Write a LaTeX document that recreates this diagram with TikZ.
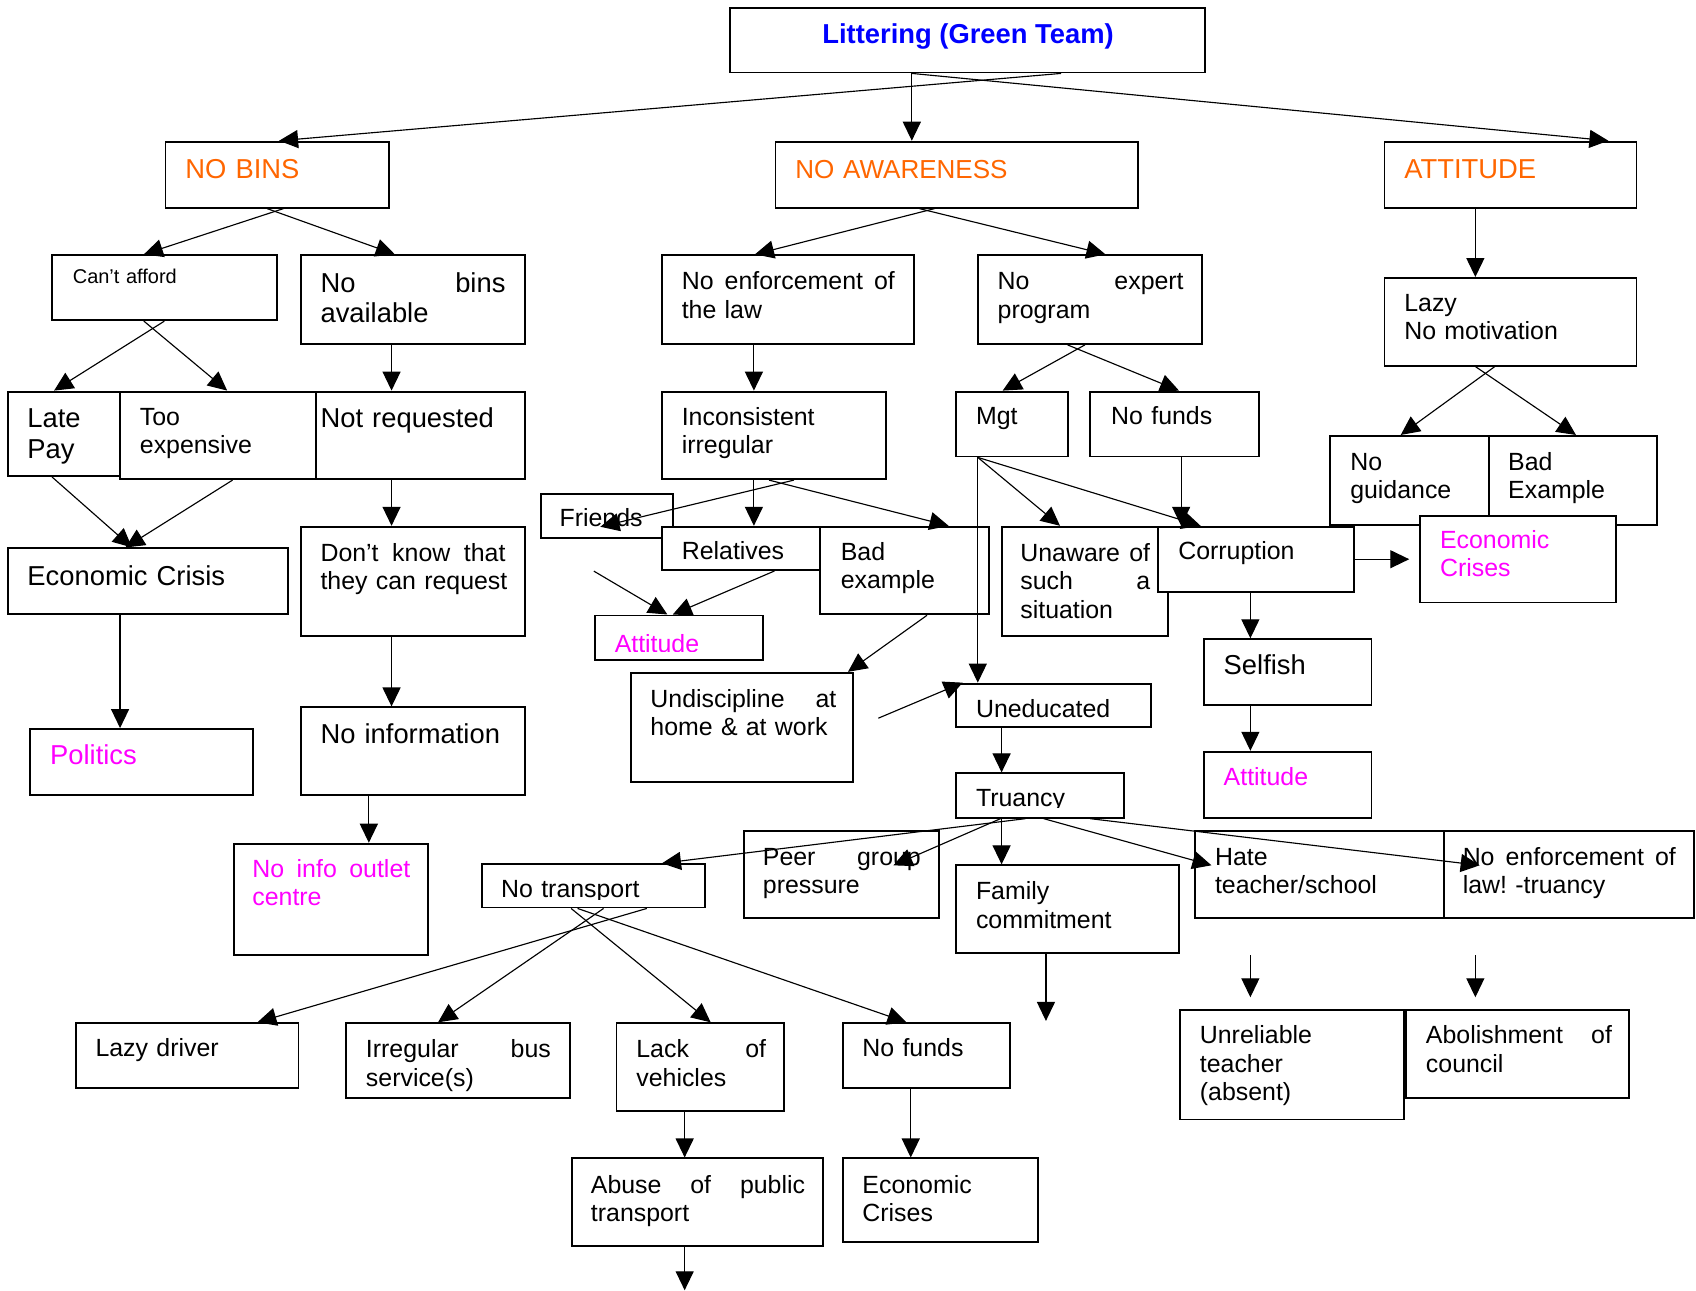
\documentclass[tikz,border=0pt]{standalone}
\usepackage{fontspec}
\setmainfont{Liberation Sans}
\usepackage{xcolor}
\usetikzlibrary{arrows.meta,fit,calc}
\definecolor{ttlblue}{RGB}{0,0,255}
\definecolor{hdorange}{RGB}{255,102,0}
\definecolor{hlmag}{RGB}{255,0,255}
\newcommand{\fsn}{\fontsize{13.1}{14.9}\selectfont}
\newcommand{\fsl}{\fontsize{14.4}{16.2}\selectfont}
\newcommand{\fss}{\fontsize{10.5}{12}\selectfont}
\frenchspacing
\tikzstyle{bx}=[draw, line width=1pt, fill=white, inner sep=0pt]
\tikzstyle{tx}=[anchor=base west, inner sep=0pt, align=left, text width=5cm, font=\fsn]
\tikzstyle{ar}=[-{Triangle[length=10pt,width=9.5pt]}, line width=0.6pt]

\begin{document}
\begin{tikzpicture}[x=0.02cm, y=-0.02cm]
\path[use as bounding box, fill=white] (0,0) rectangle (1568,1193);

% heads
\node[bx, fit={(675,7) (1114,67)}] (top) {};
\node[anchor=base, inner sep=0pt, font=\fsl\bfseries, text=ttlblue] (topT) at (895,40) {Littering (Green Team)};
\node[bx, fit={(153,131) (360,192)}] (nobins) {};
\node[tx, font=\fsl, text=hdorange] (nobinsT) at (171,165) {NO BINS};
\node[bx, fit={(717,131) (1052,192)}] (noaware) {};
\node[tx, font=\fontsize{13.7}{16}\selectfont, text=hdorange] (noawareT) at (735,165) {NO AWARENESS};
\node[bx, fit={(1280,131) (1513,192)}] (attit) {};
\node[tx, font=\fsl, text=hdorange] (attitT) at (1298,165) {ATTITUDE};

% second row
\node[bx, fit={(48,236) (256,296)}] (cant) {};
\node[tx, font=\fss] (cantT) at (67,262) {Can’t afford};
\node[bx, fit={(278,236) (485,318)}] (nobav) {};
\node[tx, font=\fsl, text width=3.42cm] (nobavT) at (296,270) {No\hfill bins\\available};
\node[bx, fit={(612,236) (845,318)}] (noenf) {};
\node[tx, text width=3.94cm] (noenfT) at (630,268) {No\hfill enforcement\hfill of\\the law};
\node[bx, fit={(904,236) (1111,318)}] (noexp) {};
\node[tx, text width=3.44cm] (noexpT) at (922,268) {No\hfill expert\\program};
\node[bx, fit={(1280,257) (1513,338)}] (lazy) {};
\node[tx] (lazyT) at (1298,288) {Lazy\\No motivation};

% third row
\node[bx, fit={(7,362) (111,440)}] (late) {};
\node[tx, font=\fsl] (lateT) at (25,395) {Late\\Pay};
\node[bx, fit={(111,362) (292,443)}] (tooexp) {};
\node[tx] (tooexpT) at (129,393) {Too\\expensive};
\node[bx, fit={(292,362) (485,443)}] (notreq) {};
\node[tx, font=\fsl] (notreqT) at (296,395) {Not requested};
\node[bx, fit={(612,362) (819,443)}] (incons) {};
\node[tx] (inconsT) at (630,393) {Inconsistent\\irregular};
\node[bx, fit={(884,362) (987,422)}] (mgt) {};
\node[tx] (mgtT) at (902,392) {Mgt};
\node[bx, fit={(1008,362) (1164,422)}] (nofund1) {};
\node[tx] (nofund1T) at (1027,392) {No funds};
\node[bx, fit={(1230,403) (1377,485)}] (noguid) {};
\node[tx] (noguidT) at (1248,435) {No\\guidance};
\node[bx, fit={(1377,403) (1532,485)}] (badex1) {};
\node[tx] (badex1T) at (1394,435) {Bad\\Example};

% middle
\node[bx, fit={(500,457) (622,497)}] (friends) {};
\node[tx] (friendsT) at (517,487) {Friends};
\node[bx, fit={(612,487) (768,527)}] (relat) {};
\node[tx] (relatT) at (630,517) {Relatives};
\node[bx, fit={(758,487) (914,568)}] (badex2) {};
\node[tx] (badex2T) at (777,518) {Bad\\example};
\node[bx, fit={(550,569) (705,610)}] (attd1) {};
\begin{scope}
\clip (550,569) rectangle (705,602);
\node[tx, text=hlmag] (attd1T) at (568,603) {Attitude};
\end{scope}
\node[bx, fit={(7,507) (266,568)}] (econ1) {};
\node[tx, font=\fsl] (econ1T) at (25,541) {Economic Crisis};
\node[bx, fit={(278,487) (485,588)}] (dontk) {};
\node[tx, text width=3.42cm] (dontkT) at (296,519) {Don’t\hfill know\hfill that\\\mbox{they can request}};
\node[bx, fit={(926,487) (1080,588)}] (unaw) {};
\node[tx, text width=2.40cm] (unawT) at (943,519) {Unaware\hfill of\\such\hfill a\\situation};
\node[bx, fit={(1071,487) (1252,547)}] (corr) {};
\node[tx] (corrT) at (1089,517) {Corruption};
\node[bx, fit={(1313,477) (1494,557)}] (econ2) {};
\node[tx, text=hlmag] (econ2T) at (1331,507) {Economic\\Crises};
\node[bx, fit={(1113,591) (1268,652)}] (selfish) {};
\node[tx, font=\fsl] (selfishT) at (1131,624) {Selfish};
\node[bx, fit={(583,622) (789,723)}] (undisc) {};
\node[tx, text width=3.44cm] (undiscT) at (601,654) {Undiscipline\hfill at\\home \& at work};
\node[bx, fit={(884,632) (1064,672)}] (unedu) {};
\node[tx] (uneduT) at (902,663) {Uneducated};
\node[bx, fit={(28,674) (234,735)}] (polit) {};
\node[tx, font=\fsl, text=hlmag] (politT) at (46,707) {Politics};
\node[bx, fit={(278,654) (485,735)}] (noinfo) {};
\node[tx, font=\fsl] (noinfoT) at (296,687) {No information};
\node[bx, fit={(884,715) (1039,756)}] (truancy) {};
\begin{scope}
\clip (884,715) rectangle (1039,747);
\node[tx] (truancyT) at (902,746) {Truancy};
\end{scope}
\node[bx, fit={(1113,695) (1268,756)}] (attd2) {};
\node[tx, text=hlmag] (attd2T) at (1131,726) {Attitude};

% lower rows
\node[bx, fit={(216,780) (396,883)}] (outlet) {};
\node[tx, text=hlmag, text width=2.92cm] (outletT) at (233,811) {No\hfill info\hfill outlet\\centre};
\node[bx, fit={(446,799) (652,839)}] (notrans) {};
\begin{scope}
\clip (446,799) rectangle (652,832);
\node[tx] (notransT) at (463,830) {No transport};
\end{scope}
\node[bx, fit={(688,768) (868,849)}] (peer) {};
\node[tx, text width=2.92cm] (peerT) at (705,800) {Peer\hfill group\\pressure};
\node[bx, fit={(884,800) (1090,881)}] (family) {};
\node[tx] (familyT) at (902,832) {Family\\commitment};
\node[bx, fit={(1105,768) (1335,849)}] (hate) {};
\node[tx] (hateT) at (1123,800) {Hate\\teacher/school};
\node[bx, fit={(1335,768) (1566,849)}] (noenf2) {};
\node[tx, text width=3.94cm] (noenf2T) at (1352,800) {No\hfill enforcement\hfill of\\law! -truancy};
\node[bx, fit={(70,946) (276,1006)}] (lazydr) {};
\node[tx] (lazydrT) at (88,977) {Lazy driver};
\node[bx, fit={(320,946) (527,1015)}] (irreg) {};
\node[tx, text width=3.42cm] (irregT) at (338,978) {Irregular\hfill bus\\service(s)};
\node[bx, fit={(570,946) (725,1027)}] (lackv) {};
\node[tx, text width=2.40cm] (lackvT) at (588,978) {Lack\hfill of\\vehicles};
\node[bx, fit={(779,946) (934,1006)}] (nofund2) {};
\node[tx] (nofund2T) at (797,977) {No funds};
\node[bx, fit={(1091,934) (1298,1035)}] (unrel) {};
\node[tx] (unrelT) at (1109,965) {Unreliable\\teacher\\(absent)};
\node[bx, fit={(1300,934) (1506,1015)}] (abol) {};
\node[tx, text width=3.44cm] (abolT) at (1318,965) {Abolishment\hfill of\\council};
\node[bx, fit={(529,1071) (761,1152)}] (abuse) {};
\node[tx, text width=3.96cm] (abuseT) at (546,1103) {Abuse\hfill of\hfill public\\transport};
\node[bx, fit={(779,1071) (960,1148)}] (econ3) {};
\node[tx] (econ3T) at (797,1103) {Economic\\Crises};

% loose ends
\coordinate (frA) at (549,528);
\coordinate (frB) at (812,664);
\coordinate (frC) at (1156,883);
\coordinate (frCe) at (1156,922);
\coordinate (frD) at (1364,883);
\coordinate (frDe) at (1364,922);

% connectors
\draw[ar] (top.south -| 981,0) -- (nobins.north -| 258,0);
\draw[ar] (top.south -| 843,0) -- (noaware.north -| 843,0);
\draw[ar] (top.south -| 843,0) -- (attit.north -| 1487,0);
\draw[ar] (nobins.south -| 262,0) -- (cant.north -| 133,0);
\draw[ar] (nobins.south -| 247,0) -- (nobav.north -| 365,0);
\draw[ar] (noaware.south -| 864,0) -- (noenf.north -| 698,0);
\draw[ar] (noaware.south -| 850,0) -- (noexp.north -| 1022,0);
\draw[ar] (attit.south -| 1364,0) -- (lazy.north -| 1364,0);
\draw[ar] (cant.south -| 152,0) -- (late.north -| 50,0);
\draw[ar] (cant.south -| 133,0) -- (tooexp.north -| 210,0);
\draw[ar] (nobav.south -| 362,0) -- (notreq.north -| 362,0);
\draw[ar] (noenf.south -| 697,0) -- (incons.north -| 697,0);
\draw[ar] (noexp.south -| 1003,0) -- (mgt.north -| 927,0);
\draw[ar] (noexp.south -| 987,0) -- (nofund1.north -| 1090,0);
\draw[ar] (lazy.south -| 1382,0) -- (noguid.north -| 1295,0);
\draw[ar] (lazy.south -| 1364,0) -- (badex1.north -| 1457,0);
\draw[ar] (late.south -| 48,0) -- (econ1.north -| 122,0);
\draw[ar] (tooexp.south -| 215,0) -- (econ1.north -| 116,0);
\draw[ar] (notreq.south -| 362,0) -- (dontk.north -| 362,0);
\draw[ar] (dontk.south -| 362,0) -- (noinfo.north -| 362,0);
\draw[ar] (noinfo.south -| 341,0) -- (outlet.north -| 341,0);
\draw[ar] (econ1.south -| 111,0) -- (polit.north -| 111,0);
\draw[ar] (incons.south -| 734,0) -- (friendsT.base -| 555,0);
\draw[ar] (incons.south -| 697,0) -- (relat.north -| 697,0);
\draw[ar] (incons.south -| 711,0) -- (badex2.north -| 877,0);
\draw[ar] (frA) -- (attd1.north -| 617,0);
\draw[ar] (relat.south -| 716,0) -- (attd1.north -| 622,0);
\draw[ar] (badex2.south -| 857,0) -- (undisc.north -| 784,0);
\draw[ar] (frB) -- (unedu.north -| 890,0);
\draw[ar] (mgt.south -| 904,0) -- (unedu.north -| 904,0);
\draw[ar] (mgt.south -| 904,0) -- (unaw.north -| 980,0);
\draw[ar] (mgt.south -| 904,0) -- (corr.north -| 1110,0);
\draw[ar] (nofund1.south -| 1092,0) -- (corr.north -| 1092,0);
\draw[ar] (corr.east) -- ++(50,0);
\draw[ar] (corr.south -| 1156,0) -- (selfish.north -| 1156,0);
\draw[ar] (selfish.south -| 1156,0) -- (attd2.north -| 1156,0);
\draw[ar] (unedu.south -| 926,0) -- (truancy.north -| 926,0);
\draw[ar] (truancy.south -| 948,0) -- (notrans.north -| 612,0);
\draw[ar] (truancy.south -| 925,0) -- (peerT.base -| 826,0);
\draw[ar] (truancy.south -| 926,0) -- (family.north -| 926,0);
\draw[ar] (truancy.south -| 965,0) -- (hateT.base -| 1120,0);
\draw[ar] (truancy.south -| 1008,0) -- (noenf2T.base -| 1368,0);
\draw[ar] (notrans.south -| 598,0) -- (lazydr.north -| 238,0);
\draw[ar] (notrans.south -| 558,0) -- (irreg.north -| 405,0);
\draw[ar] (notrans.south -| 528,0) -- (lackv.north -| 657,0);
\draw[ar] (notrans.south -| 534,0) -- (nofund2.north -| 838,0);
\draw[ar] (lackv.south -| 633,0) -- (abuse.north -| 633,0);
\draw[ar] (abuse.south -| 633,0) -- ++(0,40);
\draw[ar] (nofund2.south -| 842,0) -- (econ3.north -| 842,0);
\draw[ar] (family.south -| 967,0) -- ++(0,62);
\draw[ar] (frC) -- (frCe);
\draw[ar] (frD) -- (frDe);
\end{tikzpicture}
\end{document}
